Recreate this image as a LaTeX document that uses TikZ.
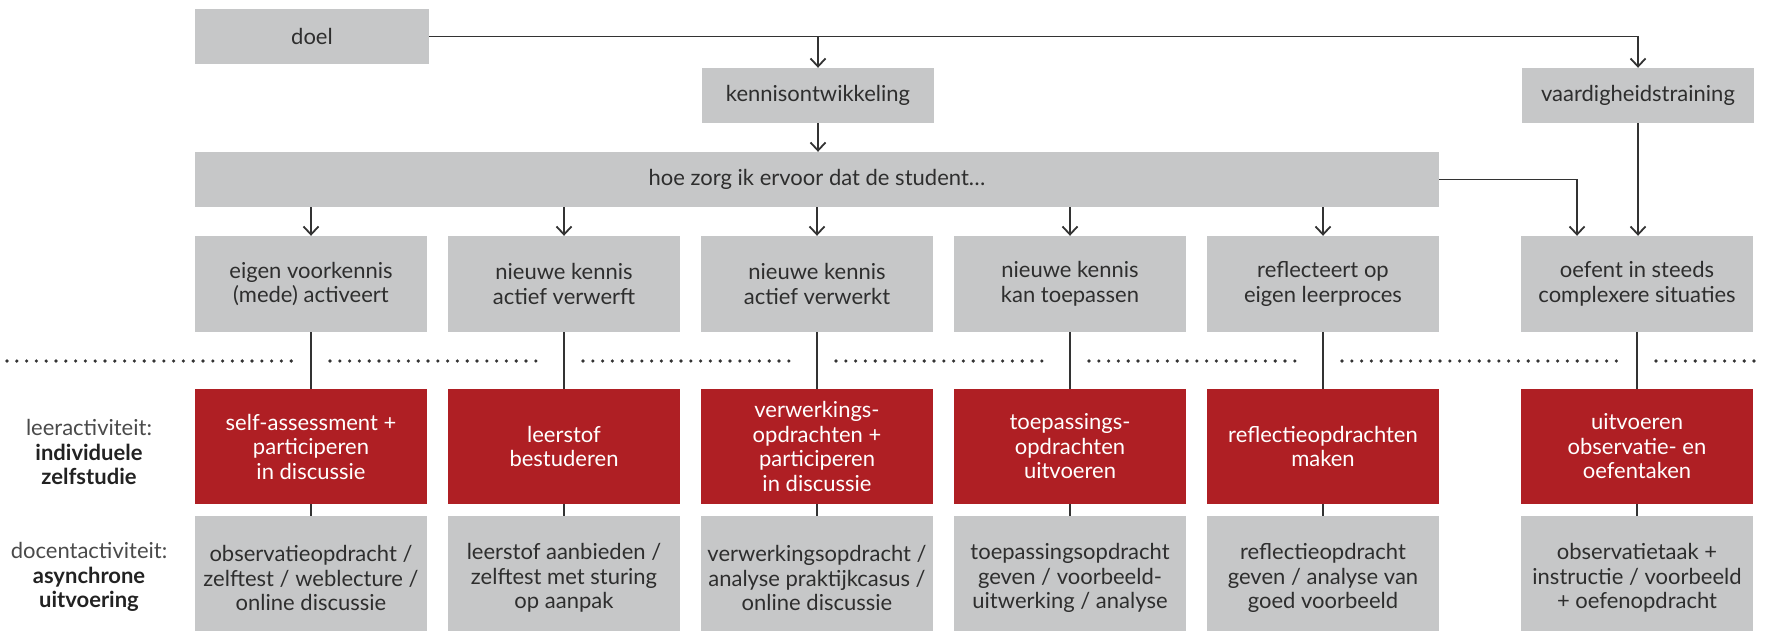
\documentclass[tikz,border=0pt]{standalone}
\usepackage{fontspec}
\setmainfont{Lato}
\usetikzlibrary{arrows.meta}
\definecolor{boxgray}{HTML}{C6C7C8}
\definecolor{boxred}{HTML}{AF1F24}
\definecolor{txt}{HTML}{2E2E2E}
\definecolor{lbl}{HTML}{4A4A4A}
\definecolor{lblb}{HTML}{222222}
\definecolor{ln}{HTML}{333333}
\begin{document}
\begin{tikzpicture}[x=1pt,y=-1pt,
  base/.style={inner sep=0pt, align=center, font=\fontsize{22}{24.5}\selectfont},
  graybox/.style={base, fill=boxgray, text=txt},
  redbox/.style={base, fill=boxred, text=white},
  topbox/.style={graybox, minimum width=232pt, minimum height=55pt},
  rowbox/.style={graybox, minimum width=232pt, minimum height=96pt},
  actbox/.style={redbox, minimum width=232pt, minimum height=115pt},
  docbox/.style={graybox, minimum width=232pt, minimum height=124pt},
  sidelbl/.style={base, text=lbl},
  conn/.style={draw=ln, line width=1.8pt},
  arr/.style={conn, -{Straight Barb[length=8pt,width=15pt,line width=1.8pt]}},
  dots/.style={draw=ln, line width=3.6pt, line cap=round, dash pattern=on 0pt off 9.8pt}
]
\useasboundingbox (0,0) rectangle (1767,631);

% top level
\node[topbox, minimum width=234pt] (doel) at (312,36.5) {doel};
\node[topbox] (kennis) at (818,95.5) {kennisontwikkeling};
\node[topbox] (vaard) at (1638,95.5) {vaardigheidstraining};
\node[graybox, minimum width=1244pt, minimum height=55pt] (hoe) at (817,179.5) {hoe zorg ik ervoor dat de student…};

% row 1
\node[rowbox] (r1) at (311,284) {eigen voorkennis\\(mede) activeert};
\node[rowbox] (r2) at (564,284) {nieuwe kennis\\actief verwerft};
\node[rowbox] (r3) at (817,284) {nieuwe kennis\\actief verwerkt};
\node[rowbox] (r4) at (1070,284) {nieuwe kennis\\kan toepassen};
\node[rowbox] (r5) at (1323,284) {reflecteert op\\eigen leerproces};
\node[rowbox] (r6) at (1637,284) {oefent in steeds\\complexere situaties};

% red row
\node[actbox] (a1) at (311,446.5) {self-assessment +\\participeren\\in discussie};
\node[actbox] (a2) at (564,446.5) {leerstof\\bestuderen};
\node[actbox] (a3) at (817,446.5) {verwerkings-\\opdrachten +\\participeren\\in discussie};
\node[actbox] (a4) at (1070,446.5) {toepassings-\\opdrachten\\uitvoeren};
\node[actbox] (a5) at (1323,446.5) {reflectieopdrachten\\maken};
\node[actbox] (a6) at (1637,446.5) {uitvoeren\\observatie- en\\oefentaken};

% bottom row (boxes run past the lower edge, as in the reference)
\node[docbox] (d1) at (311,578) {observatieopdracht /\\zelftest / weblecture /\\online discussie};
\node[docbox] (d2) at (564,578) {leerstof aanbieden /\\zelftest met sturing\\op aanpak};
\node[docbox] (d3) at (817,578) {verwerkingsopdracht /\\analyse praktijkcasus /\\online discussie};
\node[docbox] (d4) at (1070,578) {toepassingsopdracht\\geven / voorbeeld-\\uitwerking / analyse};
\node[docbox] (d5) at (1323,578) {reflectieopdracht\\geven / analyse van\\goed voorbeeld};
\node[docbox] (d6) at (1637,578) {observatietaak +\\instructie / voorbeeld\\+ oefenopdracht};

% side labels
\node[sidelbl] (l1) at (89,452) {leeractiviteit:\\\textcolor{lblb}{\bfseries individuele}\\\textcolor{lblb}{\bfseries zelfstudie}};
\node[sidelbl] (l2) at (89,577) {docentactiviteit:\\\textcolor{lblb}{\bfseries asynchrone}\\\textcolor{lblb}{\bfseries uitvoering}};

% connectors top
\draw[arr] (doel.east) -| (vaard.north);
\draw[arr] (doel.east -| kennis.north) -- (kennis.north);
\draw[arr] (kennis.south) -- (kennis.south |- hoe.north);
\coordinate (hoeR) at ([xshift=-60pt]r6.north);
\draw[arr] (hoe.east) -| (hoeR);
\draw[arr] (vaard.south) -- (vaard.south |- r6.north);
\foreach \i in {1,...,5}{
  \draw[arr] (r\i.north |- hoe.south) -- (r\i.north);
}
\foreach \i in {1,...,6}{
  \draw[conn] (r\i.south) -- (a\i.north);
  \draw[conn] (a\i.south) -- (d\i.north);
}

% dotted separator
\foreach \a/\b in {7/292, 330/545, 583/798, 836/1051, 1089/1304, 1342/1618, 1656/1762}{
  \draw[dots] (\a,361) -- (\b,361);
}
\end{tikzpicture}
\end{document}
